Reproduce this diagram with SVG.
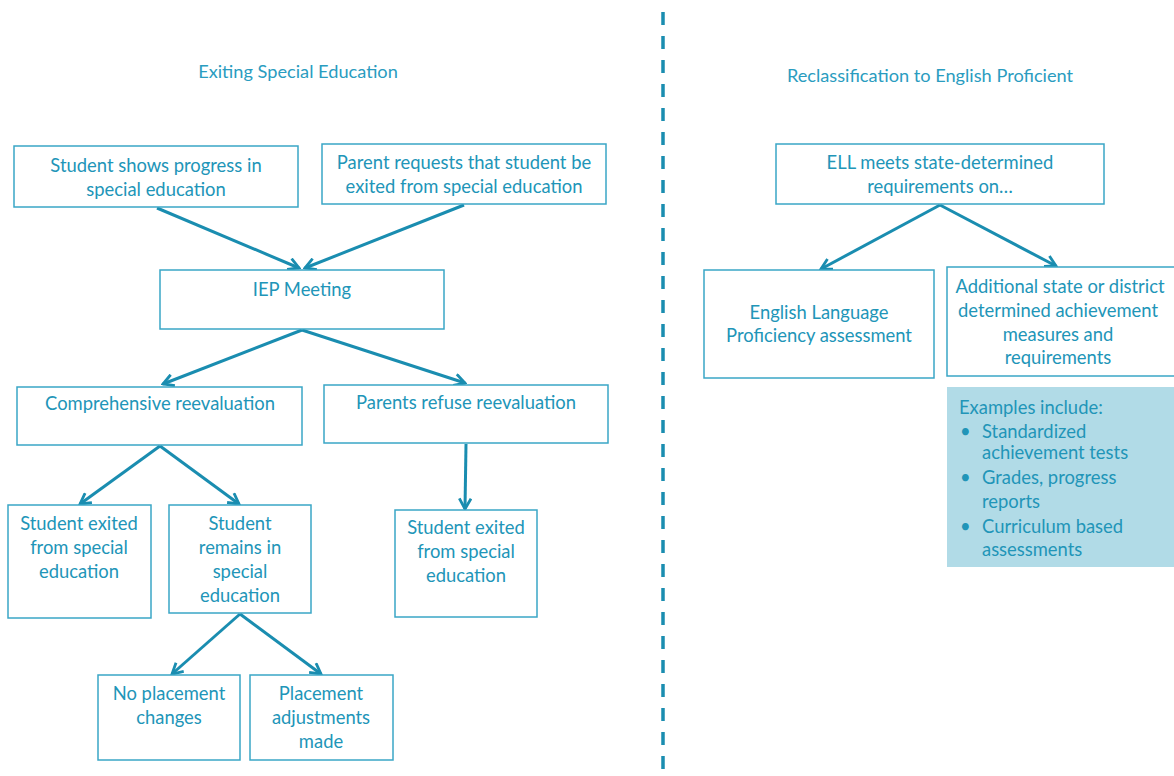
<svg xmlns="http://www.w3.org/2000/svg" width="1174" height="776" viewBox="0 0 1174 776">
<defs>
<style>
.box{fill:#fff;stroke:#3aa6c6;stroke-width:1.5}
.ex{fill:#b1dbe7;stroke:none}
.t{font-family:Lato,"Open Sans","Liberation Sans",sans-serif;font-size:18.4px;fill:#2195b8;text-anchor:middle}
.tl{font-family:Lato,"Open Sans","Liberation Sans",sans-serif;font-size:18.4px;fill:#2195b8}
.title{font-family:Lato,"Open Sans","Liberation Sans",sans-serif;font-size:18.2px;fill:#2a9cc0;text-anchor:middle}
.c{stroke:#1a8db0;stroke-width:3;fill:none}
</style>
<marker id="ah" viewBox="0 0 12 12" refX="10.5" refY="6" markerWidth="14" markerHeight="14" markerUnits="userSpaceOnUse" orient="auto">
<path d="M1.5,1 L10.5,6 L1.5,11" fill="none" stroke="#1a8db0" stroke-width="2.4"/>
</marker>
</defs>
<rect width="1174" height="776" fill="#fff"/>
<line x1="663" y1="12" x2="663" y2="776" stroke="#1a8db0" stroke-width="3.5" stroke-dasharray="13 11"/>
<text class="title" x="298" y="78">Exiting Special Education</text>
<text class="title" x="930" y="82">Reclassification to English Proficient</text>

<g id="connectors">
<line class="c" x1="157" y1="208" x2="299" y2="268" marker-end="url(#ah)"/>
<line class="c" x1="464" y1="205" x2="305" y2="268" marker-end="url(#ah)"/>
<line class="c" x1="302" y1="330" x2="163" y2="384" marker-end="url(#ah)"/>
<line class="c" x1="302" y1="330" x2="465" y2="383" marker-end="url(#ah)"/>
<line class="c" x1="160" y1="446" x2="80" y2="504" marker-end="url(#ah)"/>
<line class="c" x1="160" y1="446" x2="239" y2="504" marker-end="url(#ah)"/>
<line class="c" x1="466" y1="444" x2="465" y2="509" marker-end="url(#ah)"/>
<line class="c" x1="240" y1="614" x2="172" y2="674" marker-end="url(#ah)"/>
<line class="c" x1="240" y1="614" x2="321" y2="674" marker-end="url(#ah)"/>
<line class="c" x1="940" y1="205" x2="821" y2="269" marker-end="url(#ah)"/>
<line class="c" x1="940" y1="205" x2="1056" y2="266" marker-end="url(#ah)"/>
</g>

<g id="n1"><rect class="box" x="14" y="146" width="284" height="61"/>
<text class="t" x="156" y="172">Student shows progress in</text>
<text class="t" x="156" y="196">special education</text></g>

<g id="n2"><rect class="box" x="322" y="144" width="284" height="60"/>
<text class="t" x="464" y="169">Parent requests that student be</text>
<text class="t" x="464" y="193">exited from special education</text></g>

<g id="n3"><rect class="box" x="160" y="270" width="284" height="59"/>
<text class="t" x="302" y="296">IEP Meeting</text></g>

<g id="n4"><rect class="box" x="17" y="387" width="285" height="58"/>
<text class="t" x="160" y="410">Comprehensive reevaluation</text></g>

<g id="n5"><rect class="box" x="324" y="385" width="284" height="58"/>
<text class="t" x="466" y="409">Parents refuse reevaluation</text></g>

<g id="n6"><rect class="box" x="8" y="505" width="143" height="113"/>
<text class="t" x="79" y="530">Student exited</text>
<text class="t" x="79" y="554">from special</text>
<text class="t" x="79" y="578">education</text></g>

<g id="n7"><rect class="box" x="169" y="505" width="142" height="108"/>
<text class="t" x="240" y="530">Student</text>
<text class="t" x="240" y="554">remains in</text>
<text class="t" x="240" y="578">special</text>
<text class="t" x="240" y="602">education</text></g>

<g id="n8"><rect class="box" x="395" y="510" width="142" height="107"/>
<text class="t" x="466" y="534">Student exited</text>
<text class="t" x="466" y="558">from special</text>
<text class="t" x="466" y="582">education</text></g>

<g id="n9"><rect class="box" x="98" y="675" width="142" height="85"/>
<text class="t" x="169" y="700">No placement</text>
<text class="t" x="169" y="724">changes</text></g>

<g id="n10"><rect class="box" x="250" y="675" width="143" height="85"/>
<text class="t" x="321" y="700">Placement</text>
<text class="t" x="321" y="724">adjustments</text>
<text class="t" x="321" y="748">made</text></g>

<g id="n11"><rect class="box" x="776" y="144" width="328" height="60"/>
<text class="t" x="940" y="169">ELL meets state-determined</text>
<text class="t" x="940" y="193">requirements on…</text></g>

<g id="n12"><rect class="box" x="704" y="270" width="230" height="108"/>
<text class="t" x="819" y="319">English Language</text>
<text class="t" x="819" y="342">Proficiency assessment</text></g>

<g id="n13"><rect class="box" x="947" y="267" width="230" height="109"/>
<text class="t" x="1060" y="293">Additional state or district</text>
<text class="t" x="1058" y="317">determined achievement</text>
<text class="t" x="1058" y="341">measures and</text>
<text class="t" x="1058" y="364">requirements</text></g>

<g id="n14"><rect class="ex" x="947" y="387" width="227" height="180"/>
<text class="tl" x="959" y="414">Examples include:</text>
<text class="tl" x="960" y="438">•</text>
<text class="tl" x="982" y="438">Standardized</text>
<text class="tl" x="982" y="459">achievement tests</text>
<text class="tl" x="960" y="484">•</text>
<text class="tl" x="982" y="484">Grades, progress</text>
<text class="tl" x="982" y="508">reports</text>
<text class="tl" x="960" y="533">•</text>
<text class="tl" x="982" y="533">Curriculum based</text>
<text class="tl" x="982" y="556">assessments</text></g>
</svg>
